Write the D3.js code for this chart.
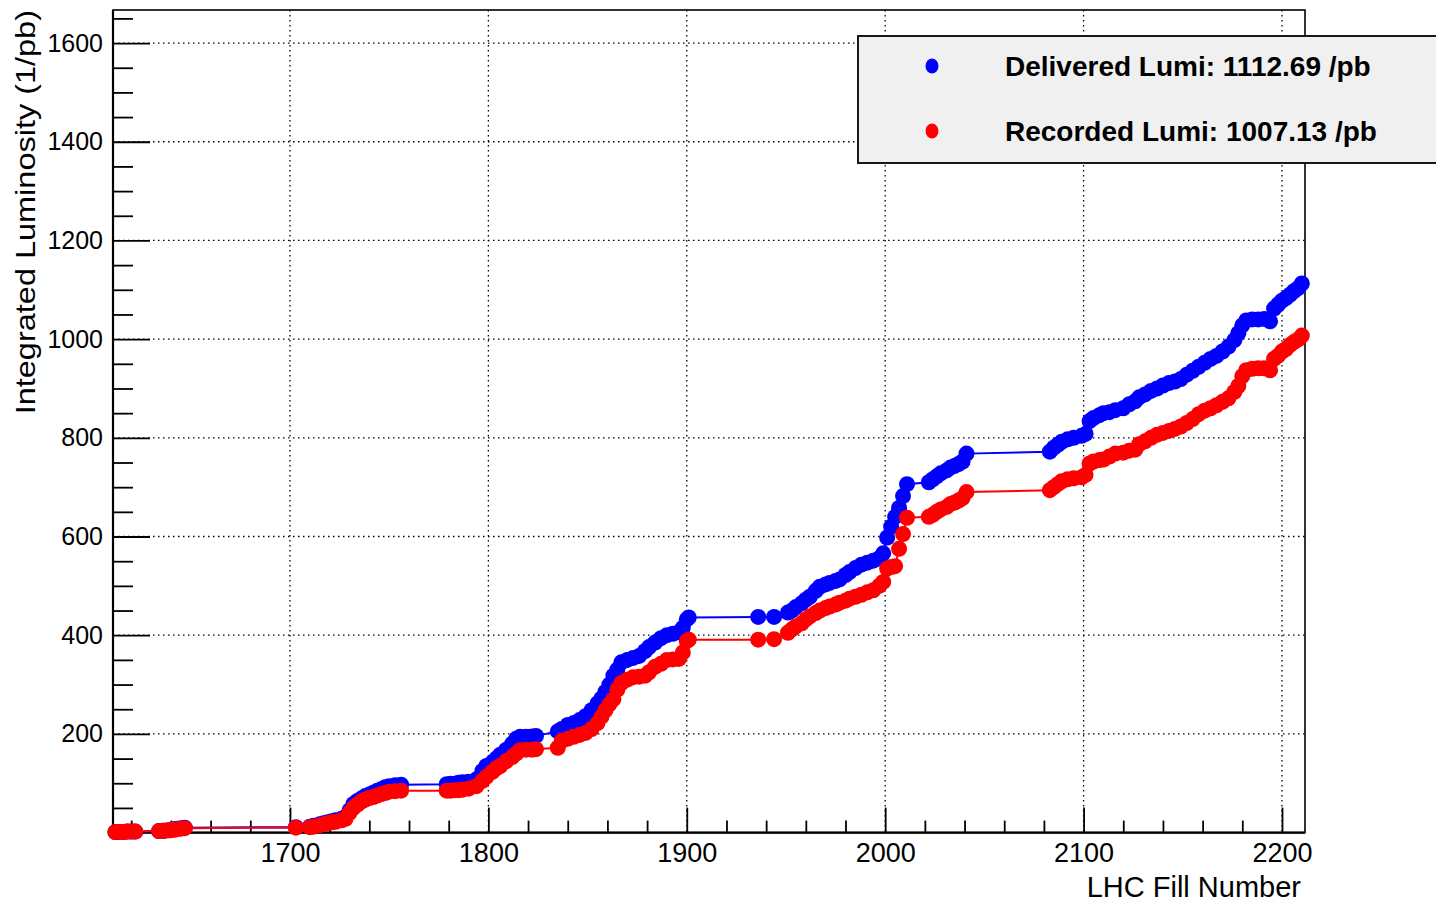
<!DOCTYPE html>
<html>
<head>
<meta charset="utf-8">
<script src="https://cdn.jsdelivr.net/npm/d3@7"></script>
<style>
  body { margin: 0; background: #fff; }
  text { font-family: "Liberation Sans", Arial, Helvetica, sans-serif; fill: #000; }
</style>
</head>
<body>
<div id="chart"></div>
<script>
// LHC fill numbers and integrated luminosity (1/pb)
const fills = [
  1612, 1614, 1616, 1618, 1620, 1622,
  1634, 1636, 1637, 1639, 1640, 1642, 1643, 1645, 1647,
  1703, 1710, 1712, 1715, 1717, 1719, 1721, 1723, 1726, 1728, 1730, 1732,
  1734, 1736, 1738, 1740, 1742, 1744, 1746, 1748, 1750, 1753, 1756,
  1779, 1781, 1783, 1785, 1787, 1790, 1794, 1797, 1799, 1802, 1804, 1806,
  1809, 1812, 1814, 1816, 1819, 1822, 1824,
  1835, 1837, 1840, 1843, 1846, 1849, 1852, 1855, 1857, 1859, 1861, 1863,
  1865, 1867, 1870, 1873, 1876, 1879, 1881, 1884, 1887, 1890, 1893, 1896,
  1898, 1900, 1901,
  1936, 1944, 1951, 1953, 1955, 1958, 1960, 1962, 1965, 1967, 1970, 1972,
  1975, 1977, 1980, 1982, 1985, 1988, 1991, 1994, 1997, 1999, 2001, 2003,
  2005, 2007, 2009, 2011,
  2022, 2024, 2026, 2028, 2031, 2033, 2035, 2037, 2039, 2041,
  2083, 2085, 2087, 2089, 2092, 2095, 2099, 2101, 2103, 2105, 2108, 2110,
  2113, 2116, 2120, 2123, 2126, 2128, 2131, 2134, 2137, 2140, 2143, 2146,
  2149, 2152, 2155, 2158, 2161, 2164, 2167, 2170, 2173, 2176, 2178, 2180,
  2182, 2185, 2188, 2191, 2194, 2196, 2198, 2200, 2202, 2204, 2206, 2208, 2210,
];

const delivered = [
  1, 1, 1, 2, 2, 2,
  3, 4, 4, 5, 6, 7, 8, 9, 10,
  11, 12, 14, 17, 19, 21, 23, 25, 28, 32, 45, 58,
  64, 69, 74, 77, 81, 85, 88, 92, 94, 96, 97,
  98, 99, 99, 101, 102, 103, 108, 125, 135, 142, 150, 158,
  168, 180, 190, 194, 194, 195, 196,
  205, 210, 218, 222, 228, 236, 248, 262, 272, 285, 300, 318,
  330, 345, 350, 354, 358, 368, 376, 385, 394, 400, 403, 406,
  415, 432, 436,
  437, 437, 446, 450, 457, 465, 472, 478, 490, 498, 503, 506,
  510, 513, 522, 528, 536, 543, 547, 551, 556, 566, 598, 620,
  640, 658, 682, 706,
  710, 716, 722, 728, 734, 740, 743, 747, 752, 768,
  772, 780, 786, 792, 797, 800, 804, 808, 834, 840, 846, 850,
  852, 856, 860, 868, 874, 882, 888, 895, 900, 906, 911, 914,
  919, 928, 936, 944, 952, 960, 966, 975, 985, 998, 1012, 1028,
  1038, 1040, 1040, 1041, 1036, 1062, 1070, 1078, 1083, 1090, 1097, 1103, 1112.69,
];

const recorded = [
  1, 1, 1, 2, 2, 2,
  3, 4, 4, 5, 5, 6, 7, 8, 9,
  10, 11, 12, 15, 17, 19, 21, 22, 25, 28, 40, 50,
  57, 63, 67, 70, 72, 75, 78, 80, 83, 84, 85,
  85, 85, 86, 86, 87, 89, 94, 105, 113, 123, 130, 135,
  145, 153, 160, 167, 168, 168, 169,
  172, 186, 190, 194, 198, 202, 210, 222, 235, 248, 260, 270,
  290, 303, 310, 315, 316, 318, 325, 336, 342, 350, 351, 352,
  365, 388, 391,
  391, 392, 405, 412, 418, 424, 432, 438, 445, 450, 455, 458,
  462, 466, 470, 474, 478, 482, 487, 491, 500, 508, 535, 538,
  540, 575, 605, 638,
  640, 644, 650, 655, 660, 666, 669, 673, 678, 690,
  694, 700, 706, 712, 716, 718, 720, 725, 748, 752, 755, 756,
  762, 768, 770, 774, 776, 787, 793, 800, 806, 810, 814, 818,
  823, 830, 838, 848, 855, 860, 866, 873, 880, 893, 905, 925,
  937, 940, 941, 941, 937, 960, 966, 975, 980, 988, 994, 999, 1007.13,
];

const xTicks = [1700, 1800, 1900, 2000, 2100, 2200];
const yTicks = [200, 400, 600, 800, 1000, 1200, 1400, 1600];
const seriesNames = ["Delivered Lumi: 1112.69 /pb", "Recorded Lumi: 1007.13 /pb"];
const seriesColors = ["#0000ff", "#ff0000"];

const W = 1436, H = 905;
const frame = { left: 113, right: 1305, top: 10, bottom: 832.6 };

const svg = d3.select("#chart").append("svg")
  .attr("width", W)
  .attr("height", H);

const x = d3.scaleLinear().domain([1610.8, 2211.6]).range([frame.left, frame.right]);
const y = d3.scaleLinear().domain([0, 1667]).range([frame.bottom, frame.top]);

// dotted grid at major ticks
const grid = svg.append("g")
  .attr("stroke", "#000")
  .attr("stroke-width", 1.3)
  .attr("stroke-dasharray", "1.5,3.5");
grid.selectAll("line.gx").data(xTicks).enter().append("line")
  .attr("x1", (d) => x(d)).attr("x2", (d) => x(d))
  .attr("y1", frame.top).attr("y2", frame.bottom);
grid.selectAll("line.gy").data(yTicks).enter().append("line")
  .attr("x1", frame.left).attr("x2", frame.right)
  .attr("y1", (d) => y(d)).attr("y2", (d) => y(d));

// axes, ROOT style: ticks pointing into the frame
const xMinor = d3.range(1620, 2211, 20).filter((v) => v % 100 !== 0);
const yMinor = d3.range(50, 1667, 50).filter((v) => v % 200 !== 0);

const styleAxis = (size) => (g) => {
  g.select(".domain").remove();
  g.selectAll("line").attr("stroke", "#000").attr("stroke-width", 1.8);
  g.selectAll("text").style("font-size", size);
};

svg.append("g")
  .attr("transform", `translate(0,${frame.bottom})`)
  .call(d3.axisBottom(x).tickValues(xMinor).tickSizeInner(-12).tickSizeOuter(0).tickFormat(""))
  .call(styleAxis("27px"));
svg.append("g")
  .attr("transform", `translate(0,${frame.bottom})`)
  .call(d3.axisBottom(x).tickValues(xTicks).tickSizeInner(-25).tickSizeOuter(0).tickPadding(10).tickFormat(d3.format("d")))
  .call(styleAxis("27px"));

svg.append("g")
  .attr("transform", `translate(${frame.left},0)`)
  .call(d3.axisLeft(y).tickValues(yMinor).tickSizeInner(-20).tickSizeOuter(0).tickFormat(""))
  .call(styleAxis("25px"));
svg.append("g")
  .attr("transform", `translate(${frame.left},0)`)
  .call(d3.axisLeft(y).tickValues(yTicks).tickSizeInner(-37).tickSizeOuter(0).tickPadding(10).tickFormat(d3.format("d")))
  .call(styleAxis("25px"));

// frame
svg.append("rect")
  .attr("x", frame.left).attr("y", frame.top)
  .attr("width", frame.right - frame.left).attr("height", frame.bottom - frame.top)
  .attr("fill", "none").attr("stroke", "#000").attr("stroke-width", 1.6);
svg.append("line")
  .attr("x1", frame.left).attr("x2", frame.right)
  .attr("y1", frame.bottom).attr("y2", frame.bottom)
  .attr("stroke", "#000").attr("stroke-width", 2.2);
svg.append("line")
  .attr("x1", frame.left).attr("x2", frame.left)
  .attr("y1", frame.top).attr("y2", frame.bottom)
  .attr("stroke", "#000").attr("stroke-width", 2.2);

// data
const series = [delivered, recorded];
const line = d3.line().x((d) => x(d[0])).y((d) => y(d[1]));

series.forEach((vals, i) => {
  const pts = fills.map((f, j) => [f, vals[j]]);
  svg.append("path")
    .datum(pts)
    .attr("d", line)
    .attr("fill", "none")
    .attr("stroke", seriesColors[i])
    .attr("stroke-width", 2);
  svg.append("g").selectAll("circle")
    .data(pts)
    .enter()
    .append("circle")
    .attr("cx", (d) => x(d[0]))
    .attr("cy", (d) => y(d[1]))
    .attr("r", 8)
    .attr("fill", seriesColors[i]);
});

// axis titles
svg.append("text")
  .attr("x", 1301).attr("y", 897)
  .attr("text-anchor", "end")
  .style("font-size", "29px")
  .text("LHC Fill Number");

svg.append("text")
  .attr("transform", "translate(35,10) rotate(-90) scale(1.16,1)")
  .attr("text-anchor", "end")
  .style("font-size", "28px")
  .text("Integrated Luminosity (1/pb)");

// legend
const legend = svg.append("g");
legend.append("rect")
  .attr("x", 858).attr("y", 36)
  .attr("width", 600).attr("height", 127)
  .attr("fill", "#f0f0f0")
  .attr("stroke", "#000")
  .attr("stroke-width", 1.8);
seriesNames.forEach((name, i) => {
  const cy = 66 + i * 65;
  legend.append("ellipse")
    .attr("cx", 932).attr("cy", cy)
    .attr("rx", 6.5).attr("ry", 7.5)
    .attr("fill", seriesColors[i]);
  legend.append("text")
    .attr("x", 1005).attr("y", cy + 10)
    .style("font-size", "28px")
    .style("font-weight", "bold")
    .text(name);
});
</script>
</body>
</html>
